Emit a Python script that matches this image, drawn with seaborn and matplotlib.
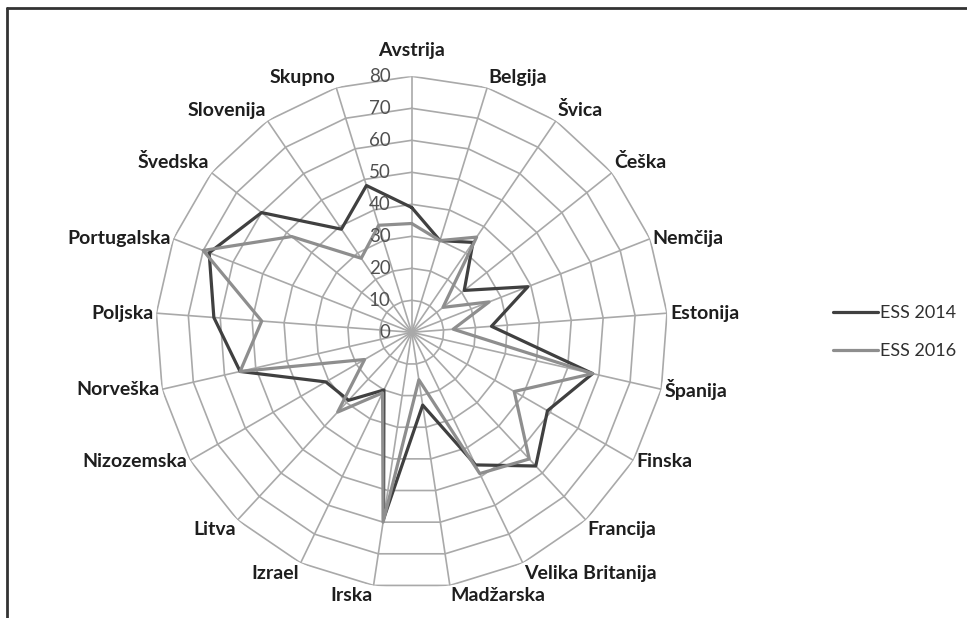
import numpy as np
import pandas as pd
import matplotlib
matplotlib.use("Agg")
import matplotlib.pyplot as plt
from matplotlib.lines import Line2D
import seaborn as sns

categories = ["Avstrija", "Belgija", "Švica", "Češka", "Nemčija", "Estonija", "Španija",
              "Finska", "Francija", "Velika Britanija", "Madžarska", "Irska", "Izrael",
              "Litva", "Nizozemska", "Norveška", "Poljska", "Portugalska", "Švedska",
              "Slovenija", "Skupno"]
ess2014 = [39, 30, 34, 21, 39, 25, 58, 49, 57, 46, 23, 59, 20, 29, 31, 55, 62, 68, 60, 39, 48]
ess2016 = [34, 30, 36, 12.5, 26, 13, 58, 37, 54, 49, 15, 60, 21, 34, 17, 55, 47, 70, 48, 28, 35]
series_names = ["ESS 2014", "ESS 2016"]
r_ticks = [0, 10, 20, 30, 40, 50, 60, 70, 80]

sns.set_theme(style="white")
plt.rcParams["font.family"] = ["Lato", "DejaVu Sans"]

W, H = 967, 618
fig = plt.figure(figsize=(W / 100, H / 100), dpi=100)
fig.patch.set_facecolor("white")
cx, cy, R = 411.7, 332.3, 256
ax = fig.add_axes([(cx - R) / W, 1 - (cy + R) / H, 2 * R / W, 2 * R / H], projection="polar")
ax.set_theta_zero_location("N")
ax.set_theta_direction(-1)
ax.grid(False)
ax.spines["polar"].set_visible(False)
ax.patch.set_alpha(0)

n = len(categories)
theta = np.arange(n) * 2 * np.pi / n
closed = np.append(theta, theta[0])
rmax = r_ticks[-1]

grid_color = "#a9a9a9"
for lv in r_ticks[1:]:
    ax.plot(closed, [lv] * (n + 1), color=grid_color, lw=1.2, zorder=1)
for t in theta:
    ax.plot([t, t], [0, rmax], color=grid_color, lw=1.2, zorder=1)

rows = []
for name, vals in zip(series_names, [ess2014, ess2016]):
    vv = list(vals) + [vals[0]]
    for t, v in zip(closed, vv):
        rows.append({"theta": t, "value": v, "series": name})
df = pd.DataFrame(rows)

sns.lineplot(data=df, x="theta", y="value", hue="series", sort=False, estimator=None,
             palette=["#404040", "#8e8e8e"], linewidth=2.3, ax=ax, zorder=3)
ax.set_xlabel("")
ax.set_ylabel("")
ax.set_xticks([])
ax.set_yticks([])
ax.set_ylim(0, rmax)

# radial tick labels
for lv in r_ticks:
    ax.annotate(str(lv), xy=(0, lv), xytext=(-21, 0), textcoords="offset pixels",
                ha="right", va="center", fontsize=13.5, color="#505050", zorder=4)

# category labels
for t, lab in zip(theta, categories):
    s, c = np.sin(t), np.cos(t)
    if abs(s) < 0.1:
        ha = "center"
        off = (0, 17 if c > 0 else -4)
        va = "bottom" if c > 0 else "top"
    else:
        ha = "left" if s > 0 else "right"
        off = (3 * s, 2 * c)
        va = "bottom" if c > 0.55 else ("top" if c < -0.55 else "center")
    ax.annotate(lab, xy=(t, rmax), xytext=off, textcoords="offset pixels",
                ha=ha, va=va, fontsize=14, fontweight="bold", color="#1e1e1e")

sns.move_legend(ax, "center left", bbox_to_anchor=(833 / W, 1 - 332 / H),
                bbox_transform=fig.transFigure, frameon=False, title="",
                handlelength=2.5, handletextpad=0.1, labelspacing=1.2,
                borderpad=0, borderaxespad=0, fontsize=13)
for txt in ax.get_legend().get_texts():
    txt.set_color("#303030")

# frame edges (top and left)
fig.add_artist(Line2D([7 / W, 1], [1 - 8 / H, 1 - 8 / H], transform=fig.transFigure,
                      color="#333333", lw=2))
fig.add_artist(Line2D([7 / W, 7 / W], [0, 1 - 8 / H], transform=fig.transFigure,
                      color="#333333", lw=2))

fig.savefig("out.png", dpi=100, facecolor="white")
